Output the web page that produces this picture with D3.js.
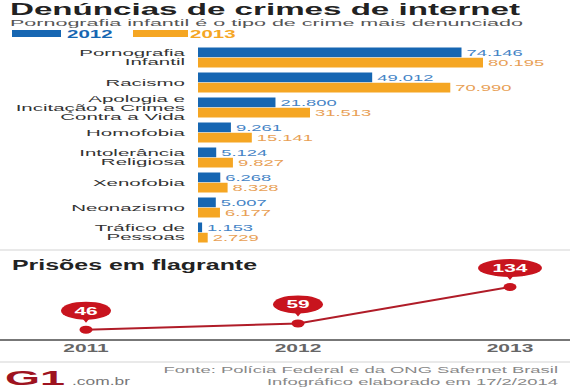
<!DOCTYPE html>
<html><head><meta charset="utf-8">
<script src="https://cdn.jsdelivr.net/npm/d3@7"></script>
<style>body{margin:0;background:#fff}svg{display:block;font-family:"Liberation Sans",Arial,sans-serif}</style>
</head><body>
<svg id="c" width="570" height="390"></svg>
<script>
// ---- data ----
const categories = [["Pornografia","Infantil"],["Racismo"],["Apologia e","Incitação a Crimes","Contra a Vida"],["Homofobia"],["Intolerância","Religiosa"],["Xenofobia"],["Neonazismo"],["Tráfico de","Pessoas"]];
const series = ["2012","2013"];
const values2012 = [74146, 49012, 21800, 9261, 5124, 6268, 5007, 1153];
const values2013 = [80195, 70990, 31513, 15141, 9827, 8328, 6177, 2729];
const years = ["2011","2012","2013"];
const arrests = [46, 59, 134];

const BLUE = "#1666b2", ORANGE = "#f5a623", RED = "#c8141e";
const svg = d3.select("#c");
svg.append("rect").attr("width",570).attr("height",390).attr("fill","#fff");

function txt(x, y, s, o) {
  o = o || {};
  const t = svg.append("text")
    .attr("transform", `translate(${x},${y}) scale(${o.sx||1},1)`)
    .attr("font-size", o.size||10)
    .attr("font-weight", o.weight||"normal")
    .attr("fill", o.fill||"#333")
    .attr("text-anchor", o.anchor||"start")
    .text(s);
  if (o.len) t.attr("textLength", o.len).attr("lengthAdjust","spacingAndGlyphs");
  return t;
}

// ---- header ----
txt(10, 15, "Denúncias de crimes de internet", {size:16, weight:"bold", fill:"#222", len:510});
txt(10, 25.5, "Pornografia infantil é o tipo de crime mais denunciado", {size:9.5, fill:"#555", len:513});

// legend
const legX = [12, 133];
series.forEach((s,i)=>{
  svg.append("rect").attr("x",legX[i]).attr("y",30).attr("width",i?55:49).attr("height",7).attr("fill",i?ORANGE:BLUE);
  txt(legX[i]+(i?57:55), 37.5, s, {size:10, weight:"bold", fill:i?ORANGE:BLUE, sx:2.05});
});

// ---- bar chart ----
const x = d3.scaleLinear().domain([0, 80195]).range([198, 483]);
const y = d3.scaleBand().domain(d3.range(categories.length)).range([47.5, 242.5]).paddingInner(0.2).paddingOuter(0);
const ys = d3.scaleBand().domain(series).range([0, y.bandwidth()]).paddingInner(0.05);
const fmt = v => d3.format(",")(v).replace(/,/g,".");

categories.forEach((lines, i) => {
  const g0 = y(i);
  const cy = g0 + y.bandwidth()/2;
  const lh = 8.8;
  lines.forEach((l, k) => {
    txt(185, cy + (k - (lines.length-1)/2)*lh + 3.2, l, {size:8.6, fill:"#333", anchor:"end", sx:2.38});
  });
  [values2012[i], values2013[i]].forEach((v, j) => {
    const s = series[j];
    svg.append("rect").attr("x", x(0)).attr("y", g0 + ys(s)).attr("width", x(v)-x(0)).attr("height", ys.bandwidth()).attr("fill", j?ORANGE:BLUE);
    txt(x(v)+5, g0 + ys(s) + ys.bandwidth()/2 + 3.3, fmt(v), {size:9.2, fill:j?"#e8a055":"#4584c6", sx:2.0});
  });
});

// separator
svg.append("line").attr("x1",0).attr("x2",570).attr("y1",250).attr("y2",250).attr("stroke","#e2e2e2").attr("stroke-width",1.5);

// ---- line chart ----
txt(12, 270, "Prisões em flagrante", {size:14, weight:"bold", fill:"#222", len:245});
const lx = d3.scalePoint().domain(years).range([86, 510]);
const ly = d3.scaleLinear().domain([0, 134]).range([352, 287]);

svg.append("line").attr("x1",0).attr("x2",570).attr("y1",340).attr("y2",340).attr("stroke","#777").attr("stroke-width",2);

svg.append("path").datum(arrests.map((v,i)=>[lx(years[i]), ly(v)]))
  .attr("d", d3.line()).attr("fill","none").attr("stroke","#b01c28").attr("stroke-width",2);

arrests.forEach((v,i)=>{
  const px = lx(years[i]), py = ly(v);
  svg.append("ellipse").attr("cx",px).attr("cy",py).attr("rx",6.5).attr("ry",4).attr("fill",RED);
  const label = String(v);
  const rx = label.length > 2 ? 32 : 25;
  const by = py - 19;
  svg.append("path").attr("d", `M${px-5},${by+6} L${px+5},${by+6} L${px},${py-7} Z`).attr("fill",RED);
  svg.append("ellipse").attr("cx",px).attr("cy",by).attr("rx",rx).attr("ry",9).attr("fill",RED);
  txt(px, by+4, label, {size:11, weight:"bold", fill:"#fff", anchor:"middle", sx:1.9});
  txt(px, 352, years[i], {size:10, weight:"bold", fill:"#666", anchor:"middle", sx:2.1});
});

// ---- footer ----
svg.append("line").attr("x1",0).attr("x2",570).attr("y1",362).attr("y2",362).attr("stroke","#e2e2e2").attr("stroke-width",1.5);
txt(5, 385, "G1", {size:20, weight:"bold", fill:"#9e1320", len:60});
txt(72, 385, ".com.br", {size:10, fill:"#777", len:58});
txt(558, 373, "Fonte: Polícia Federal e da ONG Safernet Brasil", {size:9, fill:"#888", anchor:"end", sx:2.05});
txt(558, 385, "Infográfico elaborado em 17/2/2014", {size:9, fill:"#888", anchor:"end", sx:2.05});
</script>
</body></html>
